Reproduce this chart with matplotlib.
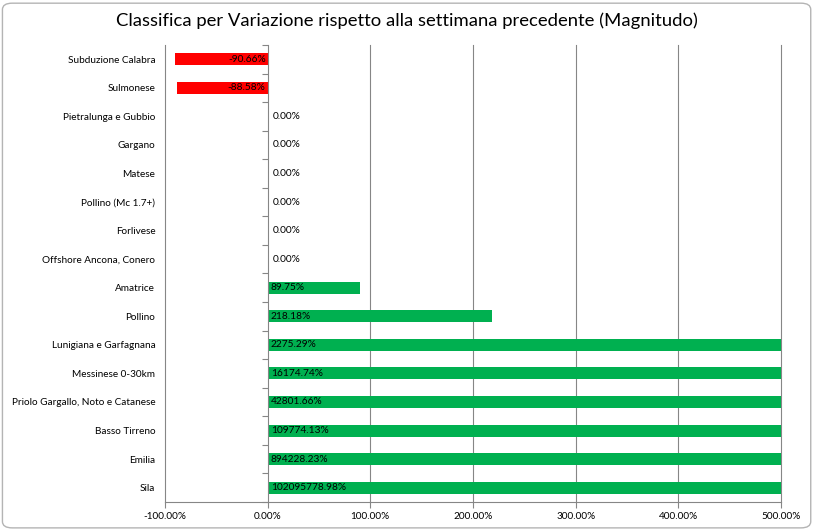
import matplotlib
matplotlib.use("Agg")
import matplotlib.pyplot as plt
from matplotlib.patches import FancyBboxPatch
import numpy as np

# data (percent change vs previous week)
regions = [
    "Subduzione Calabra",
    "Sulmonese",
    "Pietralunga e Gubbio",
    "Gargano",
    "Matese",
    "Pollino (Mc 1.7+)",
    "Forlivese",
    "Offshore Ancona, Conero",
    "Amatrice",
    "Pollino",
    "Lunigiana e Garfagnana",
    "Messinese 0-30km",
    "Priolo Gargallo, Noto e Catanese",
    "Basso Tirreno",
    "Emilia",
    "Sila",
]
variation = [-90.66, -88.58, 0.0, 0.0, 0.0, 0.0, 0.0, 0.0,
             89.75, 218.18, 2275.29, 16174.74, 42801.66,
             109774.13, 894228.23, 102095778.98]
x_ticks = [-100, 0, 100, 200, 300, 400, 500]

FONT = "Lato"
GRID = "#868686"

fig = plt.figure(figsize=(8.14, 5.30), dpi=100)
fig.patches.append(FancyBboxPatch((0.003, 0.004), 0.993, 0.990,
                                  boxstyle="round,pad=0,rounding_size=0.012",
                                  transform=fig.transFigure, facecolor="white",
                                  edgecolor="#b4b4b4", linewidth=1.0, zorder=-1))

ax = fig.add_axes([0.2027, 0.053, 0.7568, 0.862])
y = np.arange(len(regions))
colors = ["#ff0000" if v < 0 else "#00b050" for v in variation]
ax.barh(y, variation, height=0.42, color=colors, zorder=3)

ax.set_xlim(-100, 500)
ax.set_ylim(len(regions) - 0.5, -0.5)

ax.set_xticks(x_ticks)
ax.set_xticklabels([f"{t:.2f}%" for t in x_ticks], fontsize=7.2, family=FONT)
ax.set_yticks(y)
ax.set_yticklabels(regions, fontsize=7.2, family=FONT)
ax.tick_params(axis="y", length=0, pad=7)
ax.tick_params(axis="x", length=4, width=0.8, color=GRID, pad=3)

for t in x_ticks:
    if t != 0:
        ax.axvline(t, color=GRID, linewidth=0.8, zorder=1, clip_on=False)

for side in ["top", "right", "left"]:
    ax.spines[side].set_visible(False)
ax.spines["bottom"].set_color(GRID)
ax.spines["bottom"].set_linewidth(0.8)

# category axis crossing at zero
cat = ax.secondary_yaxis(1 / 6)
cat.set_yticks(np.arange(len(regions) + 1) - 0.5)
cat.set_yticklabels([])
cat.tick_params(length=4, width=0.8, color=GRID, direction="out")
cat.spines["left"].set_color(GRID)
cat.spines["left"].set_linewidth(0.8)
cat.set_zorder(4)

for yi, v in zip(y, variation):
    if v < 0:
        ax.text(-2, yi, f"{v:.2f}%", ha="right", va="center", fontsize=7.3,
                family=FONT, zorder=5)
    elif v == 0:
        ax.text(5, yi, f"{v:.2f}%", ha="left", va="center", fontsize=7.3,
                family=FONT, zorder=5)
    else:
        ax.text(3, yi, f"{v:.2f}%", ha="left", va="center", fontsize=7.3,
                family=FONT, zorder=5)

fig.text(0.5, 0.96, "Classifica per Variazione rispetto alla settimana precedente (Magnitudo)",
         ha="center", va="center", fontsize=13.3, family=FONT)

fig.savefig("out.png", dpi=100)
